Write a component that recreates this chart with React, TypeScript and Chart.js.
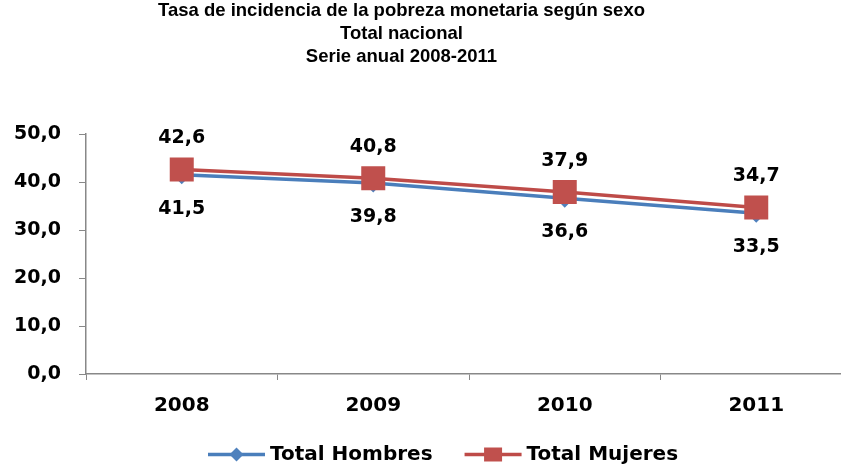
import React, { useEffect, useRef } from "react";
import { Chart, registerables } from "chart.js";

Chart.register(...registerables);

const titleLines = [
  "Tasa de incidencia de la pobreza monetaria según sexo",
  "Total nacional",
  "Serie anual 2008-2011",
];
const years = ["2008", "2009", "2010", "2011"];
const hombres = [41.5, 39.8, 36.6, 33.5];
const mujeres = [42.6, 40.8, 37.9, 34.7];
const yTicks = [0, 10, 20, 30, 40, 50];

const BLUE_LINE = "#4A7EBB";
const BLUE = "#4F81BD";
const RED_LINE = "#BE4B48";
const RED = "#C0504D";
const FONT = "'DejaVu Sans', Verdana, sans-serif";

const fmt = (v: number) => v.toFixed(1).replace(".", ",");

const titlePlugin = {
  id: "customTitle",
  afterDraw(chart: any) {
    const ctx = chart.ctx;
    ctx.save();
    ctx.fillStyle = "#000";
    ctx.font = "bold 18.5px 'Liberation Sans', Arial, sans-serif";
    ctx.textAlign = "center";
    ctx.textBaseline = "alphabetic";
    const baselines = [16, 39, 61.5];
    titleLines.forEach((t, i) => ctx.fillText(t, 401.5, baselines[i]));
    ctx.restore();
  },
};

const labelPlugin = {
  id: "valueLabels",
  afterDatasetsDraw(chart: any) {
    const ctx = chart.ctx;
    ctx.save();
    ctx.fillStyle = "#000";
    ctx.font = `bold 19px ${FONT}`;
    ctx.textAlign = "center";
    ctx.textBaseline = "middle";
    chart.data.datasets.forEach((ds: any, di: number) => {
      const meta = chart.getDatasetMeta(di);
      const off = ds.labelPos === "below" ? 34 : -31;
      meta.data.forEach((pt: any, i: number) => {
        ctx.fillText(fmt(ds.data[i]), pt.x, pt.y + off);
      });
    });
    ctx.restore();
  },
};

const legendPlugin = {
  id: "customLegend",
  afterDraw(chart: any) {
    const ctx = chart.ctx;
    ctx.save();
    ctx.font = `bold 20px ${FONT}`;
    ctx.textBaseline = "middle";
    ctx.textAlign = "left";
    let x = 208;
    const y = 454.5;
    chart.data.datasets.forEach((ds: any) => {
      ctx.strokeStyle = ds.borderColor;
      ctx.lineWidth = 3.5;
      ctx.beginPath();
      ctx.moveTo(x, y);
      ctx.lineTo(x + 57, y);
      ctx.stroke();
      ctx.fillStyle = ds.pointBackgroundColor;
      const cx = x + 28.5;
      ctx.beginPath();
      if (ds.pointStyle === "rect") {
        ctx.rect(cx - 9, y - 7, 18, 14);
      } else {
        const r = 7;
        ctx.moveTo(cx, y - r);
        ctx.lineTo(cx + r, y);
        ctx.lineTo(cx, y + r);
        ctx.lineTo(cx - r, y);
        ctx.closePath();
      }
      ctx.fill();
      ctx.fillStyle = "#000";
      ctx.fillText(ds.label, x + 62, y);
      x += 62 + ctx.measureText(ds.label).width + 32;
    });
    ctx.restore();
  },
};

export default function App() {
  const ref = useRef<HTMLCanvasElement | null>(null);
  useEffect(() => {
    document.body.style.margin = "0";
    if (!ref.current) return;
    const chart = new Chart(ref.current, {
      type: "line",
      data: {
        labels: years,
        datasets: [
          {
            label: "Total Hombres",
            data: hombres,
            borderColor: BLUE_LINE,
            backgroundColor: BLUE,
            pointBackgroundColor: BLUE,
            pointBorderColor: BLUE,
            pointStyle: "rectRot",
            pointRadius: 7,
            borderWidth: 3.5,
            tension: 0,
            order: 2,
            labelPos: "below",
          } as any,
          {
            label: "Total Mujeres",
            data: mujeres,
            borderColor: RED_LINE,
            backgroundColor: RED,
            pointBackgroundColor: RED,
            pointBorderColor: RED,
            pointStyle: "rect",
            pointRadius: 14.5,
            borderWidth: 3.5,
            tension: 0,
            order: 1,
            labelPos: "above",
          } as any,
        ],
      },
      options: {
        responsive: false,
        animation: false,
        devicePixelRatio: 1,
        layout: { padding: { top: 134, right: 8, bottom: 0, left: 0 } },
        plugins: {
          legend: { display: false },
          title: { display: false },
          tooltip: { enabled: false },
        },
        scales: {
          x: {
            type: "category",
            offset: true,
            grid: {
              display: true,
              offset: true,
              drawOnChartArea: false,
              drawTicks: true,
              tickLength: 6,
              color: "#888",
            },
            border: { display: true, color: "#888", width: 1.5 },
            ticks: {
              color: "#000",
              font: { family: FONT, size: 20, weight: "bold" },
              padding: 14,
              maxRotation: 0,
              autoSkip: false,
            },
            afterFit(scale: any) {
              scale.height = 93;
            },
          },
          y: {
            min: 0,
            max: 50,
            afterBuildTicks(scale: any) {
              scale.ticks = yTicks.map((v) => ({ value: v }));
            },
            grid: {
              display: true,
              drawOnChartArea: false,
              drawTicks: true,
              tickLength: 7,
              color: "#888",
            },
            border: { display: true, color: "#888", width: 1.5 },
            ticks: {
              color: "#000",
              font: { family: FONT, size: 19, weight: "bold" },
              padding: 18,
              callback: (v: any) => fmt(Number(v)),
            },
            afterFit(scale: any) {
              scale.width = 86;
            },
          },
        },
      },
      plugins: [titlePlugin, labelPlugin, legendPlugin],
    });
    return () => chart.destroy();
  }, []);
  return (
    <div style={{ width: 841, height: 467, overflow: "hidden", position: "relative", background: "#fff" }}>
      <canvas ref={ref} width={870} height={467} style={{ width: 870, height: 467, display: "block" }} />
    </div>
  );
}
